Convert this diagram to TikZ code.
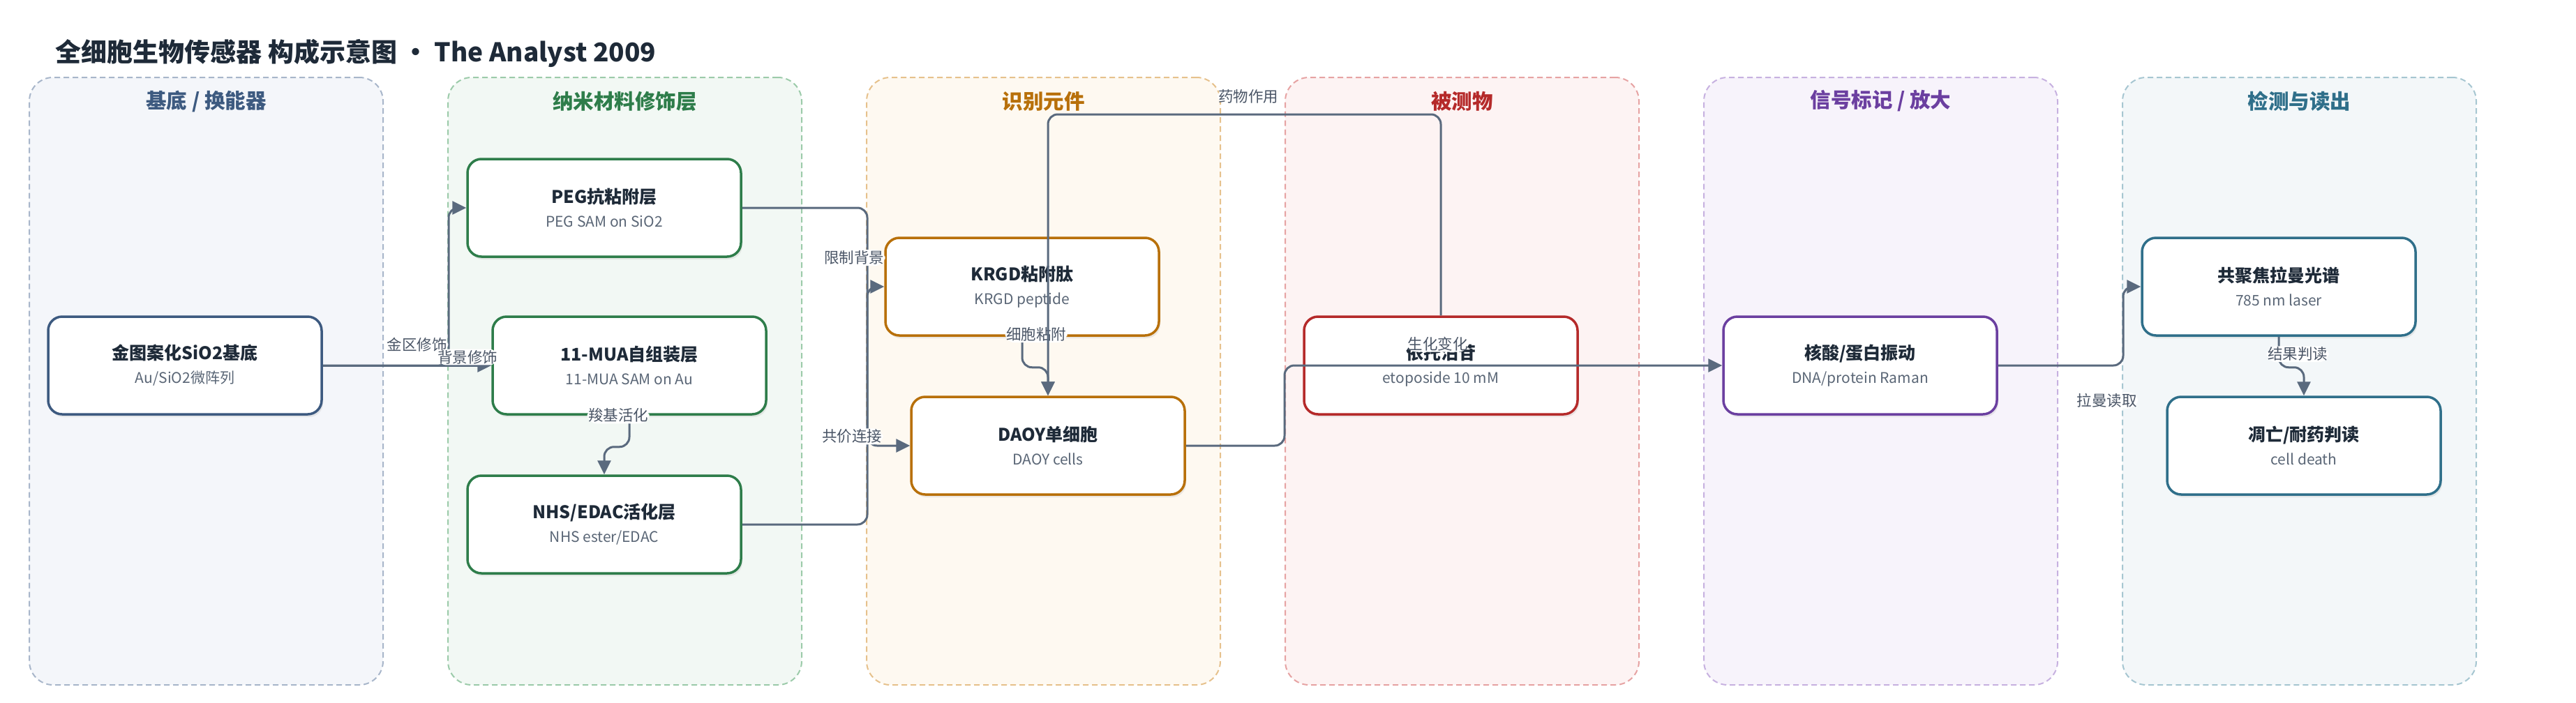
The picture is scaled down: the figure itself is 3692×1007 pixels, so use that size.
\documentclass[tikz,border=0pt]{standalone}
\usepackage{fontspec}
\setmainfont{Noto Sans CJK SC}
\usetikzlibrary{positioning,arrows.meta,shadows}

\definecolor{ink}{HTML}{1E2A38}
\definecolor{subtxt}{HTML}{5A6676}
\definecolor{labtxt}{HTML}{4A5566}
\definecolor{edgec}{HTML}{5A6A7E}
\definecolor{cblue}{HTML}{3D5A80}
\definecolor{cgreen}{HTML}{2E7D4A}
\definecolor{corange}{HTML}{B8700A}
\definecolor{cred}{HTML}{B52A2A}
\definecolor{cpurple}{HTML}{6B3FA0}
\definecolor{cteal}{HTML}{2F6F8A}
\definecolor{fblue}{HTML}{F4F6FA}
\definecolor{fgreen}{HTML}{F2F8F4}
\definecolor{forange}{HTML}{FEF9F1}
\definecolor{fred}{HTML}{FDF3F3}
\definecolor{fpurple}{HTML}{F7F3FB}
\definecolor{fteal}{HTML}{F3F7F9}
\definecolor{dblue}{HTML}{A8B6CA}
\definecolor{dgreen}{HTML}{9CCBAA}
\definecolor{dorange}{HTML}{E6C18C}
\definecolor{dred}{HTML}{E6A3A3}
\definecolor{dpurple}{HTML}{C7B1E0}
\definecolor{dteal}{HTML}{A6C6D1}

% title line + subtitle line of a box
\newcommand{\nd}[2]{{\bfseries\fontsize{25}{34}\selectfont\color{ink}#1}\\{\color{subtxt}#2}}

\begin{document}
\begin{tikzpicture}[x=1pt,y=-1pt,
    lane/.style = {rectangle, rounded corners=34pt, dash pattern=on 8pt off 5pt, line width=2pt, minimum width=507pt, minimum height=871pt},
    lanetitle/.style = {font=\bfseries\fontsize{29.5}{34}\selectfont},
    mynode/.style = {rectangle, rounded corners=20pt, fill=white, line width=3.5pt, minimum width=392pt, minimum height=140pt, align=center, font=\fontsize{21}{34}\selectfont, drop shadow={shadow xshift=2pt,shadow yshift=-4pt,opacity=0.15}},
    mb/.style = {mynode,draw=cblue},
    mg/.style = {mynode,draw=cgreen},
    mo/.style = {mynode,draw=corange},
    mr/.style = {mynode,draw=cred},
    mp/.style = {mynode,draw=cpurple},
    mt/.style = {mynode,draw=cteal},
    rel/.style = {font=\fontsize{21.5}{24}\selectfont, text=labtxt, fill=white, inner sep=1.5pt},
    exist/.style = {draw=edgec, line width=3pt, rounded corners=14pt, -{Triangle[length=20pt,width=19pt]}}
    ]
    \useasboundingbox (0,0) rectangle (3692,1007);

    \node[anchor=west, text=ink, font=\bfseries\fontsize{37}{44}\selectfont] (title) at (76,76) {全细胞生物传感器 构成示意图 · The Analyst 2009};

    % lanes
    \node[lane,draw=dblue,fill=fblue] (l1) at (295.5,546.5) {};
    \node[lane,draw=dgreen,fill=fgreen] (l2) at (895.5,546.5) {};
    \node[lane,draw=dorange,fill=forange] (l3) at (1495.5,546.5) {};
    \node[lane,draw=dred,fill=fred] (l4) at (2095.5,546.5) {};
    \node[lane,draw=dpurple,fill=fpurple] (l5) at (2695.5,546.5) {};
    \node[lane,draw=dteal,fill=fteal] (l6) at (3295.5,546.5) {};
    \node[lanetitle,text=cblue] (t1) at ([yshift=-35pt]l1.north) {基底 / 换能器};
    \node[lanetitle,text=cgreen] (t2) at ([yshift=-35pt]l2.north) {纳米材料修饰层};
    \node[lanetitle,text=corange] (t3) at ([yshift=-35pt]l3.north) {识别元件};
    \node[lanetitle,text=cred] (t4) at ([yshift=-35pt]l4.north) {被测物};
    \node[lanetitle,text=cpurple] (t5) at ([yshift=-35pt]l5.north) {信号标记 / 放大};
    \node[lanetitle,text=cteal] (t6) at ([yshift=-35pt]l6.north) {检测与读出};

    % boxes
    \node[mb] (sub) at (265,524) {\nd{金图案化SiO2基底}{Au/SiO2微阵列}};
    \node[mg] (peg) at (866,298) {\nd{PEG抗粘附层}{PEG SAM on SiO2}};
    \node[mg] (mua) at (902,524) {\nd{11-MUA自组装层}{11-MUA SAM on Au}};
    \node[mg] (nhs) at (866,752) {\nd{NHS/EDAC活化层}{NHS ester/EDAC}};
    \node[mo] (krgd) at (1465,411) {\nd{KRGD粘附肽}{KRGD peptide}};
    \node[mo] (daoy) at (1502,639) {\nd{DAOY单细胞}{DAOY cells}};
    \node[mr] (eto) at (2065,524) {\nd{依托泊苷}{etoposide 10 mM}};
    \node[mp] (dna) at (2666,524) {\nd{核酸/蛋白振动}{DNA/protein Raman}};
    \node[mt] (conf) at (3266,411) {\nd{共聚焦拉曼光谱}{785 nm laser}};
    \node[mt] (death) at (3302,639) {\nd{凋亡/耐药判读}{cell death}};

    % connectors
    \draw[exist] (sub.east) -- node[rel,pos=0.75,yshift=30pt]{金区修饰} (643,524) -- (643,298) -- (peg.west);
    \draw[exist] (sub.east) -- node[rel,pos=0.86,yshift=12pt]{背景修饰} (mua.west);
    \draw[exist] (mua.south) -- node[rel,pos=0,xshift=-16pt]{羧基活化} ++(0,45) -| (nhs.north);
    \draw[exist] (peg.east) -- (1243,298) -- node[rel,pos=0.21,xshift=-19pt]{限制背景} (1243,639) -- (daoy.west);
    \draw[exist] (nhs.east) -- (1243,752) -- node[rel,pos=0.37,xshift=-22pt]{共价连接} (1243,411) -- (krgd.west);
    \draw[exist] (krgd.south) -- node[rel,pos=0,xshift=20pt,yshift=3pt]{细胞粘附} ++(0,44) -| (daoy.north);
    \draw[exist] (eto.north) -- (2065,164) -- node[rel,pos=0.49,yshift=26pt]{药物作用} (1502,164) -- (daoy.north);
    \draw[exist] (daoy.east) -- (1841,639) -- (1841,524) -- node[rel,pos=0.35,yshift=31pt]{生化变化} (dna.west);
    \draw[exist] (dna.east) -- node[rel,pos=0.87,yshift=-50pt]{拉曼读取} (3043,524) -- (3043,411) -- (conf.west);
    \draw[exist] (conf.south) -- node[rel,pos=0,xshift=27pt,yshift=-25pt]{结果判读} ++(0,44) -| (death.north);
  \end{tikzpicture}
\end{document}
